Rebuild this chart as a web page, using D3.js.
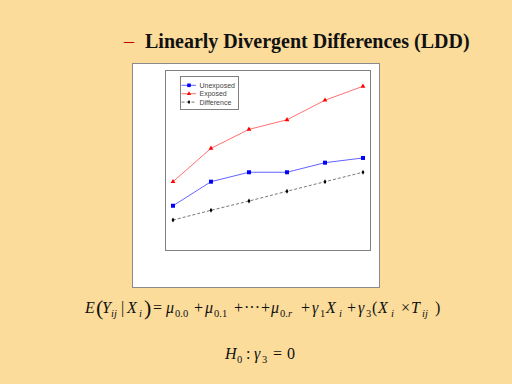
<!DOCTYPE html>
<html>
<head>
<meta charset="utf-8">
<script src="https://d3js.org/d3.v7.min.js"></script>
<style>
  body { margin: 0; background: #fbdc9b; }
  svg { display: block; }
</style>
</head>
<body>
<div id="chart"></div>
<script>
// Data
const times = [1, 2, 3, 4, 5, 6];
const unexposed = [2.5, 3.83, 4.35, 4.35, 4.88, 5.14];
const exposed = [3.83, 5.67, 6.72, 7.25, 8.33, 9.1];
const difference = [1.71, 2.25, 2.76, 3.3, 3.83, 4.35];
const seriesNames = ["Unexposed", "Exposed", "Difference"];

const svg = d3.select("#chart").append("svg")
  .attr("width", 512)
  .attr("height", 384);

svg.append("rect")
  .attr("width", 512).attr("height", 384)
  .attr("fill", "#fbdc9b");

// Title
svg.append("text")
  .attr("x", 124).attr("y", 48)
  .style("font-family", "'Liberation Serif', 'Times New Roman', serif")
  .style("font-size", "20px")
  .attr("fill", "#c00000")
  .text("–");

svg.append("text")
  .attr("x", 145).attr("y", 48)
  .style("font-family", "'Liberation Serif', 'Times New Roman', serif")
  .style("font-size", "20px")
  .style("font-weight", "bold")
  .attr("fill", "#111")
  .text("Linearly Divergent Differences (LDD)");

// White panel
svg.append("rect")
  .attr("x", 132.5).attr("y", 63.5)
  .attr("width", 247).attr("height", 224)
  .attr("fill", "white")
  .attr("stroke", "#8a8a8a");

// Plot frame
const frame = { left: 165.5, top: 70.5, right: 370.5, bottom: 250.5 };
svg.append("rect")
  .attr("x", frame.left).attr("y", frame.top)
  .attr("width", frame.right - frame.left)
  .attr("height", frame.bottom - frame.top)
  .attr("fill", "white")
  .attr("stroke", "#808080");

// Scales
const x = d3.scaleLinear().domain([1, 6]).range([173, 363]);
const y = d3.scaleLinear().domain([0, 10]).range([251, 70]);

const line = d3.line()
  .x((d, i) => x(times[i]))
  .y(d => y(d));

const series = [
  { name: seriesNames[0], values: unexposed, color: "#3a3aff", mark: "#0000ff", symbol: d3.symbolSquare, size: 16, dash: null },
  { name: seriesNames[1], values: exposed, color: "#ff4a4a", mark: "#ff0000", symbol: d3.symbolTriangle, size: 10, dash: null },
  { name: seriesNames[2], values: difference, color: "#555", mark: "#000", symbol: d3.symbolDiamond, size: 7, dash: "3 2" }
];

series.forEach(s => {
  svg.append("path")
    .attr("d", line(s.values))
    .attr("fill", "none")
    .attr("stroke", s.color)
    .attr("stroke-width", 0.8)
    .attr("stroke-dasharray", s.dash);

  svg.selectAll(null)
    .data(s.values)
    .enter()
    .append("path")
    .attr("transform", (d, i) => `translate(${x(times[i])},${y(d)})`)
    .attr("d", d3.symbol().type(s.symbol).size(s.size))
    .attr("fill", s.mark);
});

// Legend
const legend = svg.append("g");
legend.append("rect")
  .attr("x", 180.5).attr("y", 76.5)
  .attr("width", 58).attr("height", 33)
  .attr("fill", "white")
  .attr("stroke", "#808080");

series.forEach((s, i) => {
  const ly = 85.3 + i * 8.4;
  legend.append("line")
    .attr("x1", 181.5).attr("x2", 196)
    .attr("y1", ly).attr("y2", ly)
    .attr("stroke", s.color)
    .attr("stroke-width", 0.8)
    .attr("stroke-dasharray", s.dash);
  legend.append("path")
    .attr("transform", `translate(189,${ly})`)
    .attr("d", d3.symbol().type(s.symbol).size(s.size * 0.8))
    .attr("fill", s.mark);
  legend.append("text")
    .attr("x", 199.5).attr("y", ly + 2.5)
    .style("font-family", "'Liberation Sans', Arial, sans-serif")
    .style("font-size", "7px")
    .attr("fill", "#444")
    .text(s.name);
});

// Equations: each piece placed at its own x, subscripts dropped
function equation(yPos, parts) {
  const g = svg.append("g")
    .style("font-family", "'Liberation Serif', 'Times New Roman', serif")
    .attr("fill", "#111");
  parts.forEach(p => {
    g.append("text")
      .attr("x", p.x)
      .attr("y", yPos + (p.sub ? 3.5 : 0) + (p.dy || 0))
      .style("font-style", p.it ? "italic" : "normal")
      .style("font-size", (p.size || (p.sub ? 10.5 : 16)) + "px")
      .text(p.t);
  });
}

equation(313, [
  { t: "E", it: true, x: 85 },
  { t: "(", size: 22, x: 96, dy: 1.5 },
  { t: "Y", it: true, x: 102 },
  { t: "ij", it: true, sub: true, x: 111 },
  { t: "|", x: 121 },
  { t: "X", it: true, x: 127 },
  { t: "i", it: true, sub: true, x: 139 },
  { t: ")", size: 22, x: 144, dy: 1.5 },
  { t: "=", x: 153 },
  { t: "μ", it: true, x: 166 },
  { t: "0.0", sub: true, x: 175 },
  { t: "+", x: 194 },
  { t: "μ", it: true, x: 205 },
  { t: "0.1", sub: true, x: 214 },
  { t: "+", x: 234 },
  { t: "···", x: 244 },
  { t: "+", x: 261 },
  { t: "μ", it: true, x: 271 },
  { t: "0.", sub: true, x: 280 },
  { t: "r", it: true, sub: true, x: 288 },
  { t: "+", x: 301 },
  { t: "γ", it: true, x: 312 },
  { t: "1", sub: true, x: 320 },
  { t: "X", it: true, x: 326 },
  { t: "i", it: true, sub: true, x: 339 },
  { t: "+", x: 347 },
  { t: "γ", it: true, x: 358 },
  { t: "3", sub: true, x: 366 },
  { t: "(", x: 372 },
  { t: "X", it: true, x: 378 },
  { t: "i", it: true, sub: true, x: 391 },
  { t: "×", x: 401 },
  { t: "T", it: true, x: 411 },
  { t: "ij", it: true, sub: true, x: 422 },
  { t: ")", x: 435 }
]);

equation(359, [
  { t: "H", it: true, x: 225 },
  { t: "0", sub: true, x: 237 },
  { t: ":", x: 246 },
  { t: "γ", it: true, x: 254 },
  { t: "3", sub: true, x: 262 },
  { t: "=", x: 273 },
  { t: "0", x: 287 }
]);
</script>
</body>
</html>
